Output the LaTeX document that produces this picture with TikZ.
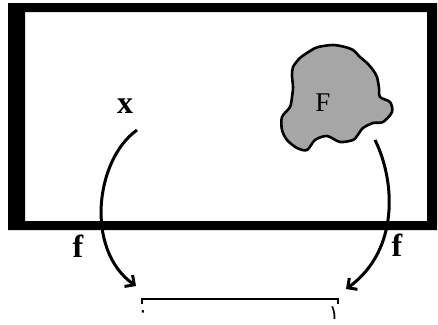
\documentclass[tikz,border=0pt]{standalone}
\usepackage{fontspec}
\newfontfamily\arabicfont[Script=Arabic]{DejaVu Sans}
\newfontfamily\tms{Liberation Serif}
\TeXXeTstate=1
\usetikzlibrary{arrows.meta}
\begin{document}
\begin{tikzpicture}[x=1pt,y=-1pt,
  mapto/.style={line width=3pt,-{Straight Barb[length=7pt,width=14pt,line width=3pt]}},
  lbl/.style={font=\tms\fontsize{32}{36}\selectfont\bfseries,inner sep=0pt},
  digit/.style={font=\arabicfont\fontsize{20}{22}\selectfont,inner sep=0pt}]
\useasboundingbox (0,0) rectangle (438,324);
% frame
\fill[black,even odd rule] (8,3) rectangle (437,230) (25,12) rectangle (427,221);
% blob
\draw[line width=2.6pt,fill=black!35] plot[smooth cycle,tension=0.5] coordinates {
 (300,58) (310,51) (318,47) (333,45) (345,47) (353,50) (360,57) (367,63) (373,70) (377,77) (379,88) (380,97) (390,102)
 (392,112) (383,122) (373,123) (363,128) (357,136) (353,140) (340,142) (327,136)
 (315,140) (307,150) (297,148) (287,140) (282,130) (282,117) (290,107)
 (292,97) (293,87) (292,76) (293,67)};
\node[font=\tms\fontsize{27}{31}\selectfont,inner sep=0pt] (F) at (323,103) {F};
\node[lbl] (x) at (125,106) {x};
\coordinate (xs) at (137,130);
\coordinate (Fs) at (375,140);
% interval
\coordinate (a) at (142,299);
\coordinate (b) at (338,299);
\draw[line width=2pt] ([yshift=-5pt]a) -- (a) -- (b) -- ([yshift=-5pt]b);
\node[digit] (zero) at (143,314) {\beginR ٠\endR};
\node[digit] (one) at (334,313) {\beginR ١\endR};
% arrows
\draw[mapto] (xs) .. controls (95,160) and (85,250) .. (136,286);
\draw[mapto] (Fs) .. controls (395,180) and (400,250) .. (346,289);
\node[lbl] (f1) at (78,246) {f};
\node[lbl] (f2) at (397,245) {f};
\end{tikzpicture}
\end{document}
